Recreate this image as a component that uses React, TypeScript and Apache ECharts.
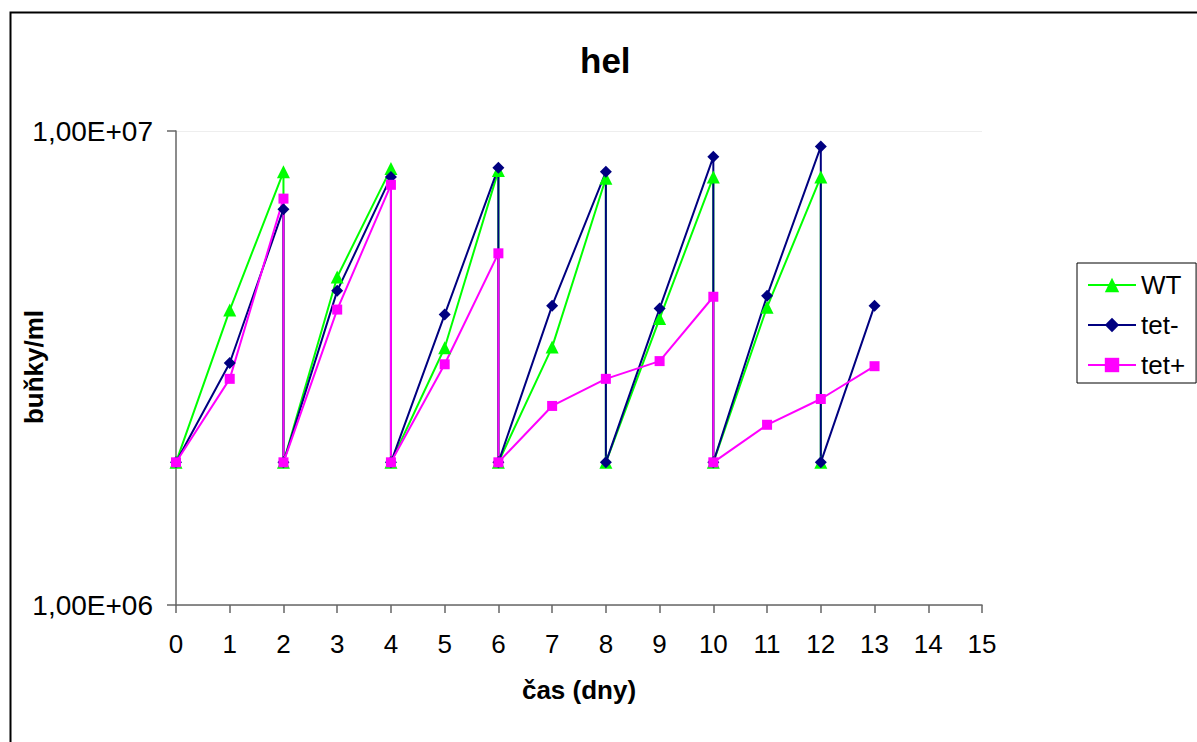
import React, { useEffect, useRef } from "react";
import * as echarts from "echarts";

const seriesNames = ["WT", "tet-", "tet+"];

const daysWT = [0, 1, 2, 2, 3, 4, 4, 5, 6, 6, 7, 8, 8, 9, 10, 10, 11, 12, 12];
const cellsWT = [2e6, 4.19e6, 8.2e6, 2e6, 4.92e6, 8.33e6, 2e6, 3.49e6, 8.25e6, 2e6, 3.5e6, 7.95e6, 2e6, 4.02e6, 8.0e6, 2e6, 4.25e6, 8.0e6, 2e6];

const daysTetMinus = [0, 1, 2, 2, 3, 4, 4, 5, 6, 6, 7, 8, 8, 9, 10, 10, 11, 12, 12, 13];
const cellsTetMinus = [2e6, 3.24e6, 6.84e6, 2e6, 4.6e6, 8.0e6, 2e6, 4.1e6, 8.37e6, 2e6, 4.28e6, 8.2e6, 2e6, 4.22e6, 8.82e6, 2e6, 4.49e6, 9.27e6, 2e6, 4.28e6];

const daysTetPlus = [0, 1, 2, 2, 3, 4, 4, 5, 6, 6, 7, 8, 9, 10, 10, 11, 12, 13];
const cellsTetPlus = [2e6, 3.0e6, 7.2e6, 2e6, 4.2e6, 7.7e6, 2e6, 3.22e6, 5.52e6, 2e6, 2.63e6, 3.0e6, 3.27e6, 4.47e6, 2e6, 2.4e6, 2.72e6, 3.19e6];

const yTickLabels: Record<number, string> = { 1000000: "1,00E+06", 10000000: "1,00E+07" };

const FONT = "'Liberation Sans', Arial, sans-serif";

function pairs(xs: number[], ys: number[]) {
  return xs.map((x, i) => [x, ys[i]]);
}

export default function App() {
  const ref = useRef<HTMLDivElement>(null);

  useEffect(() => {
    document.body.style.margin = "0";
    if (!ref.current) return;
    const chart = echarts.init(ref.current, null, { renderer: "svg" });

    const mk = (name: string, color: string, symbol: string, size: number, xs: number[], ys: number[]) => ({
      name,
      type: "line",
      data: pairs(xs, ys),
      symbol,
      symbolSize: size,
      showAllSymbol: true,
      lineStyle: { color, width: 2 },
      itemStyle: { color, borderWidth: 0 },
      emphasis: { disabled: true },
    });

    chart.setOption({
      animation: false,
      backgroundColor: "#ffffff",
      textStyle: { fontFamily: FONT },
      title: {
        text: "hel",
        left: 580,
        top: 43,
        padding: 0,
        textStyle: { fontFamily: FONT, fontSize: 35, fontWeight: "bold", color: "#000" },
      },
      legend: {
        data: seriesNames,
        orient: "vertical",
        left: 1077,
        top: 263,
        padding: [9, 11, 5, 10],
        itemGap: 14,
        itemWidth: 48,
        itemHeight: 18,
        borderColor: "#000",
        borderWidth: 1,
        textStyle: { fontFamily: FONT, fontSize: 26, color: "#000" },
      },
      grid: { left: 176, top: 131, width: 806, height: 474, containLabel: false, outerBoundsMode: "none" },
      xAxis: {
        type: "value",
        min: 0,
        max: 15,
        interval: 1,
        name: "čas (dny)",
        nameLocation: "middle",
        nameGap: 72,
        nameTextStyle: { fontFamily: FONT, fontSize: 26, fontWeight: "bold", color: "#000" },
        axisLine: { show: true, lineStyle: { color: "#666", width: 1.5 } },
        axisTick: { show: true, length: 8, inside: false, lineStyle: { color: "#666", width: 1.5 } },
        axisLabel: { fontFamily: FONT, fontSize: 26, color: "#000", margin: 26 },
        splitLine: { show: false },
      },
      yAxis: {
        type: "log",
        logBase: 10,
        min: 1e6,
        max: 1e7,
        axisLine: { show: true, lineStyle: { color: "#666", width: 1.5 } },
        axisTick: { show: true, length: 9, inside: false, lineStyle: { color: "#666", width: 1.5 } },
        axisLabel: {
          fontFamily: FONT,
          fontSize: 28,
          color: "#000",
          margin: 23,
          formatter: (v: number) => yTickLabels[Math.round(v)] ?? "",
        },
        splitLine: { show: true, lineStyle: { color: "#eeeeee", width: 1 } },
        minorTick: { show: false },
      },
      series: [
        mk("WT", "#00ff00", "triangle", 13, daysWT, cellsWT),
        mk("tet-", "#000080", "diamond", 12, daysTetMinus, cellsTetMinus),
        mk("tet+", "#ff00ff", "rect", 10, daysTetPlus, cellsTetPlus),
      ],
      graphic: [
        {
          type: "text",
          x: 34,
          y: 367,
          rotation: Math.PI / 2,
          silent: true,
          style: {
            text: "buňky/ml",
            fill: "#000",
            font: "bold 26px 'Liberation Sans', Arial, sans-serif",
            align: "center",
            verticalAlign: "middle",
          },
        },
        {
          type: "rect",
          shape: { x: 10.5, y: 12.5, width: 1200, height: 760 },
          style: { fill: "none", stroke: "#000", lineWidth: 2 },
          silent: true,
          z: 100,
        },
      ],
    });

    return () => chart.dispose();
  }, []);

  return <div ref={ref} style={{ width: 1197, height: 742 }} />;
}
